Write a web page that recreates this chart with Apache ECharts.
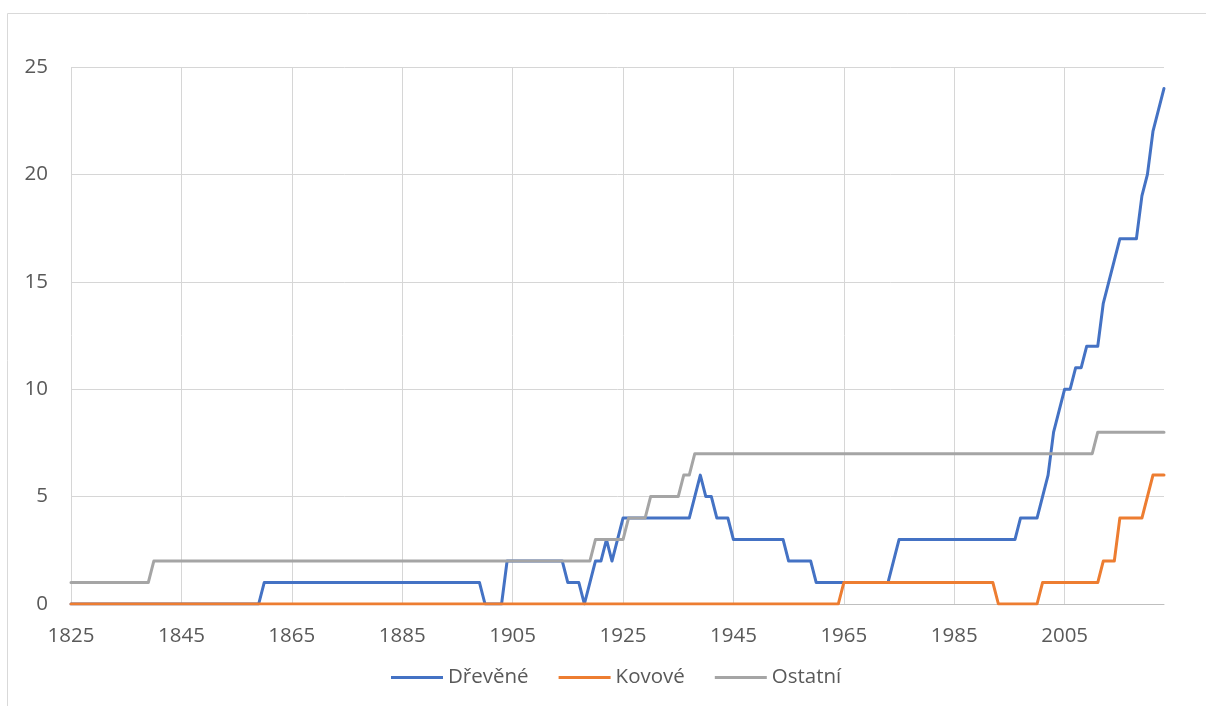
<!DOCTYPE html>
<html>
<head>
<meta charset="utf-8">
<script src="https://cdn.jsdelivr.net/npm/echarts@6/dist/echarts.min.js"></script>
<style>
  html, body { margin: 0; padding: 0; background: #ffffff; }
  #chart { width: 1206px; height: 706px; }
</style>
</head>
<body>
<div id="chart"></div>
<script>
// Categories: years 1825 .. 2023
const firstYear = 1825;
const lastYear = 2023;
const years = [];
for (let y = firstYear; y <= lastYear; y++) years.push(String(y));

const seriesNames = ['Dřevěné', 'Kovové', 'Ostatní'];

// Dřevěné (wooden) – one value per year, 10 per row starting 1825
const drevene = [
  0,0,0,0,0,0,0,0,0,0,        // 1825-1834
  0,0,0,0,0,0,0,0,0,0,        // 1835-1844
  0,0,0,0,0,0,0,0,0,0,        // 1845-1854
  0,0,0,0,0,1,1,1,1,1,        // 1855-1864
  1,1,1,1,1,1,1,1,1,1,        // 1865-1874
  1,1,1,1,1,1,1,1,1,1,        // 1875-1884
  1,1,1,1,1,1,1,1,1,1,        // 1885-1894
  1,1,1,1,1,0,0,0,0,2,        // 1895-1904
  2,2,2,2,2,2,2,2,2,2,        // 1905-1914
  1,1,1,0,1,2,2,3,2,3,        // 1915-1924
  4,4,4,4,4,4,4,4,4,4,        // 1925-1934
  4,4,4,5,6,5,5,4,4,4,        // 1935-1944
  3,3,3,3,3,3,3,3,3,3,        // 1945-1954
  2,2,2,2,2,1,1,1,1,1,        // 1955-1964
  1,1,1,1,1,1,1,1,1,2,        // 1965-1974
  3,3,3,3,3,3,3,3,3,3,        // 1975-1984
  3,3,3,3,3,3,3,3,3,3,        // 1985-1994
  3,3,4,4,4,4,5,6,8,9,        // 1995-2004
  10,10,11,11,12,12,12,14,15,16, // 2005-2014
  17,17,17,17,19,20,22,23,24  // 2015-2023
];

// Kovové (metal)
const kovove = [
  0,0,0,0,0,0,0,0,0,0,        // 1825-1834
  0,0,0,0,0,0,0,0,0,0,        // 1835-1844
  0,0,0,0,0,0,0,0,0,0,        // 1845-1854
  0,0,0,0,0,0,0,0,0,0,        // 1855-1864
  0,0,0,0,0,0,0,0,0,0,        // 1865-1874
  0,0,0,0,0,0,0,0,0,0,        // 1875-1884
  0,0,0,0,0,0,0,0,0,0,        // 1885-1894
  0,0,0,0,0,0,0,0,0,0,        // 1895-1904
  0,0,0,0,0,0,0,0,0,0,        // 1905-1914
  0,0,0,0,0,0,0,0,0,0,        // 1915-1924
  0,0,0,0,0,0,0,0,0,0,        // 1925-1934
  0,0,0,0,0,0,0,0,0,0,        // 1935-1944
  0,0,0,0,0,0,0,0,0,0,        // 1945-1954
  0,0,0,0,0,0,0,0,0,0,        // 1955-1964
  1,1,1,1,1,1,1,1,1,1,        // 1965-1974
  1,1,1,1,1,1,1,1,1,1,        // 1975-1984
  1,1,1,1,1,1,1,1,0,0,        // 1985-1994
  0,0,0,0,0,0,1,1,1,1,        // 1995-2004
  1,1,1,1,1,1,1,2,2,2,        // 2005-2014
  4,4,4,4,4,5,6,6,6           // 2015-2023
];

// Ostatní (other)
const ostatni = [
  1,1,1,1,1,1,1,1,1,1,        // 1825-1834
  1,1,1,1,1,2,2,2,2,2,        // 1835-1844
  2,2,2,2,2,2,2,2,2,2,        // 1845-1854
  2,2,2,2,2,2,2,2,2,2,        // 1855-1864
  2,2,2,2,2,2,2,2,2,2,        // 1865-1874
  2,2,2,2,2,2,2,2,2,2,        // 1875-1884
  2,2,2,2,2,2,2,2,2,2,        // 1885-1894
  2,2,2,2,2,2,2,2,2,2,        // 1895-1904
  2,2,2,2,2,2,2,2,2,2,        // 1905-1914
  2,2,2,2,2,3,3,3,3,3,        // 1915-1924
  3,4,4,4,4,5,5,5,5,5,        // 1925-1934
  5,6,6,7,7,7,7,7,7,7,        // 1935-1944
  7,7,7,7,7,7,7,7,7,7,        // 1945-1954
  7,7,7,7,7,7,7,7,7,7,        // 1955-1964
  7,7,7,7,7,7,7,7,7,7,        // 1965-1974
  7,7,7,7,7,7,7,7,7,7,        // 1975-1984
  7,7,7,7,7,7,7,7,7,7,        // 1985-1994
  7,7,7,7,7,7,7,7,7,7,        // 1995-2004
  7,7,7,7,7,7,8,8,8,8,        // 2005-2014
  8,8,8,8,8,8,8,8,8           // 2015-2023
];

const yTicks = { min: 0, max: 25, interval: 5 };
const colors = ['#4472C4', '#ED7D31', '#A5A5A5'];
const FONT = 'Open Sans';
const TEXT = '#595959';

const chart = echarts.init(document.getElementById('chart'), null, { renderer: 'canvas' });

function lineSeries(name, data, color) {
  return {
    name: name,
    type: 'line',
    data: data,
    symbol: 'none',
    showSymbol: false,
    smooth: false,
    animation: false,
    lineStyle: { color: color, width: 3, cap: 'round', join: 'round' },
    itemStyle: { color: color },
    emphasis: { disabled: true }
  };
}

chart.setOption({
  animation: false,
  color: colors,
  textStyle: { fontFamily: FONT },
  graphic: [{
    type: 'rect',
    silent: true,
    shape: { x: 7.5, y: 13.5, width: 1400, height: 900 },
    style: { fill: 'none', stroke: '#d9d9d9', lineWidth: 1 },
    z: -10
  }],
  grid: { left: 71, right: 42, top: 67, bottom: 102, containLabel: false },
  legend: {
    data: seriesNames,
    left: 386,
    top: 662,
    itemWidth: 52,
    itemHeight: 14,
    itemGap: 30,
    textStyle: { fontFamily: FONT, fontSize: 20.5, color: TEXT },
    icon: 'path://M0,6 L52,6 L52,9 L0,9 Z'
  },
  xAxis: {
    type: 'category',
    data: years,
    boundaryGap: false,
    axisLine: { show: true, lineStyle: { color: '#bfbfbf', width: 1 } },
    axisTick: { show: false },
    axisLabel: { interval: 19, margin: 22, fontSize: 20.5, color: TEXT, fontFamily: FONT },
    splitLine: { show: true, interval: 19, lineStyle: { color: '#d6d6d6', width: 1 } }
  },
  yAxis: {
    type: 'value',
    min: yTicks.min,
    max: yTicks.max,
    interval: yTicks.interval,
    axisLine: { show: false },
    axisTick: { show: false },
    axisLabel: { margin: 23, fontSize: 20.5, color: TEXT, fontFamily: FONT },
    splitLine: { show: true, lineStyle: { color: '#d6d6d6', width: 1 } }
  },
  series: [
    lineSeries(seriesNames[0], drevene, colors[0]),
    lineSeries(seriesNames[1], kovove, colors[1]),
    lineSeries(seriesNames[2], ostatni, colors[2])
  ]
});
</script>
</body>
</html>
